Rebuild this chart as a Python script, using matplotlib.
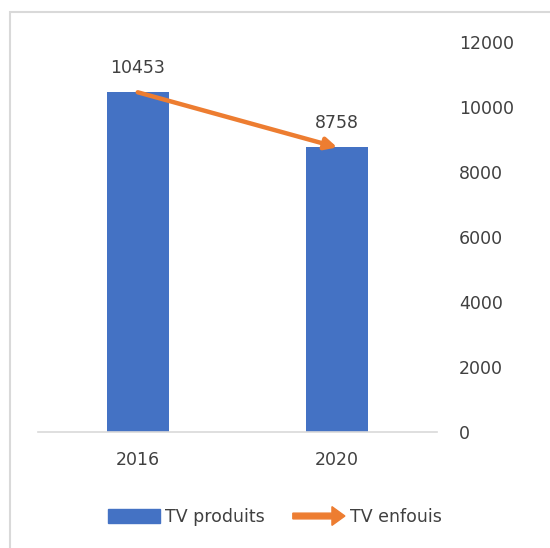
import matplotlib.pyplot as plt
from matplotlib.patches import Rectangle, FancyArrow
from matplotlib.legend_handler import HandlerPatch

# donnees
annees = ["2016", "2020"]
tv_produits = [10453, 8758]
tv_enfouis = [10453, 8758]
yticks = [0, 2000, 4000, 6000, 8000, 10000, 12000]

bleu = "#4472C4"
orange = "#ED7D31"
gris_txt = "#404040"
gris_ligne = "#D9D9D9"

plt.rcParams["font.family"] = ["DejaVu Sans"]

fig = plt.figure(figsize=(5.5, 5.48), dpi=100)
ax = fig.add_axes([38/550, 1 - 432/548, (437 - 38)/550, (432 - 42)/548])

x = list(range(len(annees)))
ax.bar(x, tv_produits, width=0.31, color=bleu, label="TV produits", zorder=2)

# fleche entre les deux annees (TV enfouis)
ax.annotate("", xy=(x[1], tv_enfouis[1]), xytext=(x[0], tv_enfouis[0]),
            arrowprops=dict(arrowstyle="-|>,head_length=0.7,head_width=0.35",
                            color=orange, lw=3.2, shrinkA=0, shrinkB=0,
                            capstyle="round"), zorder=3)

# etiquettes des valeurs
for xi, v in zip(x, tv_produits):
    ax.annotate(str(v), (xi, v), xytext=(0, 11), textcoords="offset points",
                ha="center", va="bottom", fontsize=12.5, color=gris_txt)

ax.set_xlim(-0.5, 1.5)
ax.set_ylim(0, 12000)
ax.set_xticks(x)
ax.set_xticklabels(annees)
ax.set_yticks(yticks)
ax.yaxis.tick_right()
ax.tick_params(axis="y", length=0, pad=16, labelsize=12.5, labelcolor=gris_txt)
ax.tick_params(axis="x", length=0, pad=14, labelsize=12.5, labelcolor=gris_txt)
for s in ["top", "left", "right"]:
    ax.spines[s].set_visible(False)
ax.spines["bottom"].set_color(gris_ligne)
ax.spines["bottom"].set_linewidth(1.2)


# fleche dans la legende
def fleche_legende(legend, orig_handle, xdescent, ydescent, width, height, fontsize):
    y = height / 2 - ydescent
    return FancyArrow(-xdescent, y, width, 0, width=height * 0.4,
                      head_width=height * 1.3, head_length=height * 0.9,
                      length_includes_head=True, color=orange)


h_barre = Rectangle((0, 0), 1, 1, color=bleu)
h_fleche = Rectangle((0, 0), 1, 1, color=orange)
fig.legend([h_barre, h_fleche], ["TV produits", "TV enfouis"],
           handler_map={h_fleche: HandlerPatch(patch_func=fleche_legende)},
           loc="center", bbox_to_anchor=(275/550, 1 - 517/548), ncol=2,
           frameon=False, fontsize=12.5, labelcolor=gris_txt,
           handlelength=3.0, handleheight=0.9, handletextpad=0.3,
           columnspacing=1.6)

# cadre du graphique
fig.patches.append(Rectangle((10/550, -0.1), 1.2, 1 - 12/548 + 0.1,
                             transform=fig.transFigure, fill=False,
                             edgecolor=gris_ligne, lw=1.5))

plt.savefig("out.png", dpi=100)
